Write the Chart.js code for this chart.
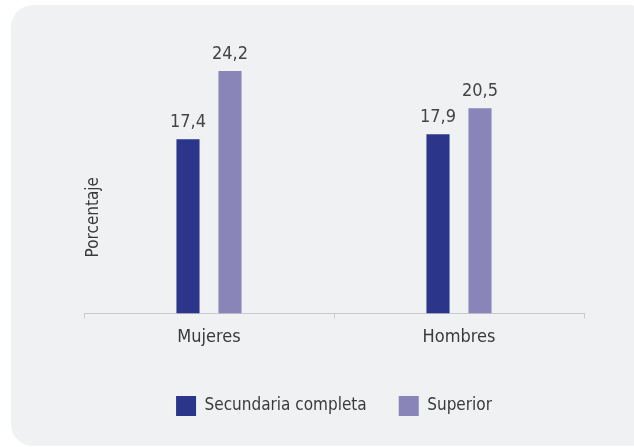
<!DOCTYPE html>
<html>
<head>
<meta charset="utf-8">
<script src="https://cdn.jsdelivr.net/npm/chart.js@4/dist/chart.umd.min.js"></script>
<style>
  html, body { margin: 0; padding: 0; background: #ffffff; }
  #wrap { position: relative; width: 634px; height: 447px; overflow: hidden; }
  #panel { position: absolute; left: 11px; top: 5px; width: 640px; height: 441px; background: #f0f1f3; border-radius: 22px; }
  #c { position: absolute; left: 0; top: 0; }
</style>
</head>
<body>
<div id="wrap">
  <div id="panel"></div>
  <canvas id="c" width="634" height="447"></canvas>
</div>
<script>
const categories = ["Mujeres", "Hombres"];
const seriesNames = ["Secundaria completa", "Superior"];
const secundariaCompleta = [17.4, 17.9];
const superior = [24.2, 20.5];
const yAxisTitle = "Porcentaje";

const FONT = "'Liberation Sans Narrow', 'DejaVu Sans Condensed', 'Arial Narrow', sans-serif";
const TEXT = "#3a3a3a";

const valueLabels = {
  id: 'valueLabels',
  afterDatasetsDraw(chart) {
    const ctx = chart.ctx;
    ctx.save();
    ctx.font = "18px " + FONT;
    ctx.fillStyle = "#444444";
    ctx.textAlign = "center";
    ctx.textBaseline = "bottom";
    chart.data.datasets.forEach((ds, i) => {
      const meta = chart.getDatasetMeta(i);
      meta.data.forEach((bar, j) => {
        ctx.fillText(ds.data[j].toFixed(1).replace('.', ','), bar.x, bar.y - 8);
      });
    });
    ctx.restore();
  }
};

const yTitle = {
  id: 'yTitle',
  afterDraw(chart) {
    const ctx = chart.ctx;
    const a = chart.chartArea;
    ctx.save();
    ctx.font = "17px " + FONT;
    ctx.fillStyle = TEXT;
    ctx.textAlign = "center";
    ctx.textBaseline = "middle";
    ctx.translate(a.left + 10, (a.top + a.bottom) / 2 + 54);
    ctx.rotate(-Math.PI / 2);
    ctx.fillText(yAxisTitle, 0, 0);
    ctx.restore();
  }
};

new Chart(document.getElementById('c'), {
  type: 'bar',
  data: {
    labels: categories,
    datasets: [
      { label: seriesNames[0], data: secundariaCompleta, backgroundColor: "#2b358a", borderWidth: 0 },
      { label: seriesNames[1], data: superior, backgroundColor: "#8985b8", borderWidth: 0 }
    ]
  },
  options: {
    responsive: false,
    animation: false,
    devicePixelRatio: 1,
    layout: { padding: { left: 84, right: 50, top: 13, bottom: 21 } },
    datasets: { bar: { categoryPercentage: 0.336, barPercentage: 0.55 } },
    scales: {
      x: {
        grid: { display: true, drawOnChartArea: false, drawTicks: true, tickLength: 5, color: "#c9cacc", offset: true },
        border: { display: true, color: "#c9cacc", width: 1 },
        ticks: { color: TEXT, font: { family: FONT, size: 18 }, padding: 8 },
        afterFit(scale) { scale.height += 8; }
      },
      y: {
        display: false,
        min: 0,
        max: 30
      }
    },
    plugins: {
      legend: {
        position: 'bottom',
        labels: {
          boxWidth: 20,
          boxHeight: 20,
          padding: 32,
          color: TEXT,
          font: { family: FONT, size: 17 }
        }
      },
      tooltip: { enabled: false }
    }
  },
  plugins: [valueLabels, yTitle]
});
</script>
</body>
</html>
